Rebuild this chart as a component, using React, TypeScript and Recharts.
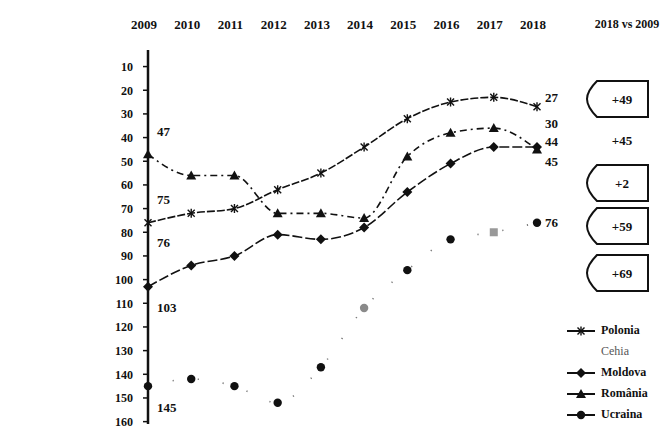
import { LineChart, Line, XAxis, YAxis, Legend, LabelList } from "recharts";

// ─── Data ────────────────────────────────────────────────────────────────────

const YEARS = ["2009", "2010", "2011", "2012", "2013", "2014", "2015", "2016", "2017", "2018"];
const POLONIA = [76, 72, 70, 62, 55, 44, 32, 25, 23, 27];
const CEHIA = [75, null, null, null, null, null, null, null, null, 30];
const MOLDOVA = [103, 94, 90, 81, 83, 78, 63, 51, 44, 44];
const ROMANIA = [47, 56, 56, 72, 72, 74, 48, 38, 36, 45];
const UCRAINA = [145, 142, 145, 152, 137, 112, 96, 83, 80, 76];
const Y_TICKS = [10, 20, 30, 40, 50, 60, 70, 80, 90, 100, 110, 120, 130, 140, 150, 160];
const DIFF_TITLE = "2018 vs 2009";
const DIFFS = ["+49", "+45", "+2", "+59", "+69"];
const DIFF_BOXED = [true, false, true, true, true];

const data = YEARS.map((year, i) => ({
  year,
  Polonia: POLONIA[i],
  Cehia: CEHIA[i],
  Moldova: MOLDOVA[i],
  Romania: ROMANIA[i],
  Ucraina: UCRAINA[i],
}));

// ─── Styles ──────────────────────────────────────────────────────────────────

const FONT = "'Liberation Serif', 'DejaVu Serif', serif";
const INK = "#111";
const DIFF_Y = [99, 140, 183, 226, 273];

// ─── Markers ─────────────────────────────────────────────────────────────────

type Kind = "star" | "diamond" | "triangle" | "circle" | "none";

function Marker({ kind, cx, cy, fill = INK }: { kind: Kind; cx: number; cy: number; fill?: string }) {
  if (kind === "star")
    return (
      <g stroke={INK} strokeWidth={1.4}>
        <line x1={cx - 3.5} y1={cy - 3.5} x2={cx + 3.5} y2={cy + 3.5} />
        <line x1={cx - 3.5} y1={cy + 3.5} x2={cx + 3.5} y2={cy - 3.5} />
        <line x1={cx} y1={cy - 4.5} x2={cx} y2={cy + 4.5} />
      </g>
    );
  if (kind === "diamond")
    return <path d={`M${cx},${cy - 5}L${cx + 5},${cy}L${cx},${cy + 5}L${cx - 5},${cy}Z`} fill={fill} />;
  if (kind === "triangle")
    return <path d={`M${cx},${cy - 5}L${cx + 5},${cy + 4}L${cx - 5},${cy + 4}Z`} fill={fill} />;
  if (kind === "circle") return <circle cx={cx} cy={cy} r={4.2} fill={fill} />;
  return null;
}

const makeDot = (kind: Kind, grey: number[] = []) => (p: any) => {
  if (p.cx == null || p.cy == null || p.value == null) return <g key={`d-${p.index}`} />;
  const g = grey.includes(p.index);
  return (
    <g key={`d-${kind}-${p.index}`}>
      {kind === "circle" && p.index === 8 ? (
        <rect x={p.cx - 4} y={p.cy - 4} width={8} height={8} fill="#999" />
      ) : (
        <Marker kind={kind} cx={p.cx} cy={p.cy} fill={g ? "#8a8a8a" : INK} />
      )}
    </g>
  );
};

// end labels: offsets at first and last year
const makeLabel = (dyStart: number, dyEnd: number) => (p: any) => {
  const last = YEARS.length - 1;
  if (p.value == null || (p.index !== 0 && p.index !== last)) return null;
  const start = p.index === 0;
  return (
    <text
      x={p.x + (start ? 9 : 8)}
      y={p.y + (start ? dyStart : dyEnd)}
      dy="0.35em"
      fontFamily={FONT}
      fontWeight={700}
      fontSize={13}
      fill={INK}
    >
      {p.value}
    </text>
  );
};

const SERIES = [
  { key: "Polonia", label: "Polonia", kind: "star" as Kind, dash: "8 2", stroke: INK, dy: [20, -9] },
  { key: "Cehia", label: "Cehia", kind: "none" as Kind, dash: "0", stroke: "transparent", dy: [-21, 10] },
  { key: "Moldova", label: "Moldova", kind: "diamond" as Kind, dash: "10 3", stroke: INK, dy: [21, -6] },
  { key: "Romania", label: "România", kind: "triangle" as Kind, dash: "7 4 2 4", stroke: INK, dy: [-23, 12] },
  { key: "Ucraina", label: "Ucraina", kind: "circle" as Kind, dash: "1.2 24", stroke: "#777", dy: [21, 0] },
];

function LegendBox() {
  return (
    <div style={{ fontFamily: FONT, fontWeight: 700, fontSize: 12, color: INK }}>
      {SERIES.map((s) => (
        <div key={s.key} style={{ display: "flex", alignItems: "center", height: 21 }}>
          <svg width={32} height={12} style={{ marginRight: 4 }}>
            {s.kind !== "none" && (
              <>
                <line x1={2} y1={6} x2={30} y2={6} stroke={INK} strokeWidth={2} />
                <Marker kind={s.kind} cx={16} cy={6} />
              </>
            )}
          </svg>
          <span style={{ color: s.kind === "none" ? "#555" : INK, fontWeight: s.kind === "none" ? 400 : 700 }}>
            {s.label}
          </span>
        </div>
      ))}
    </div>
  );
}

function DiffColumn() {
  const x0 = 587;
  const x1 = 648;
  return (
    <svg width={665} height={437} style={{ position: "absolute", left: 0, top: 0, pointerEvents: "none" }}>
      <text x={627} y={24} dy="0.35em" textAnchor="middle" fontFamily={FONT} fontWeight={700} fontSize={12} fill={INK}>
        {DIFF_TITLE}
      </text>
      {DIFFS.map((d, i) => {
        const yc = DIFF_Y[i];
        const y0 = yc - 18;
        const y1 = yc + 18;
        return (
          <g key={d}>
            {DIFF_BOXED[i] && (
              <path
                d={`M${x0 + 10},${y0}L${x1},${y0}L${x1},${y1}L${x0 + 10},${y1}Q${x0},${yc + 8} ${x0},${yc}Q${x0},${yc - 8} ${x0 + 10},${y0}Z`}
                fill="#fff"
                stroke={INK}
                strokeWidth={2}
              />
            )}
            <text x={622} y={yc} dy="0.35em" textAnchor="middle" fontFamily={FONT} fontWeight={700} fontSize={13} fill={INK}>
              {d}
            </text>
          </g>
        );
      })}
    </svg>
  );
}

export default function App() {
  return (
    <div style={{ position: "absolute", left: 0, top: 0, width: 665, height: 437, background: "#fff" }}>
      <LineChart width={665} height={437} data={data} margin={{ top: 14, right: 128, bottom: 13, left: 0 }}>
        <XAxis
          dataKey="year"
          orientation="top"
          height={36}
          axisLine={false}
          tickLine={false}
          interval={0}
          tick={(p: any) => (
            <text
              x={p.x - 4}
              y={24}
              dy="0.35em"
              textAnchor="middle"
              fontFamily={FONT}
              fontWeight={700}
              fontSize={13}
              fill={INK}
            >
              {p.payload.value}
            </text>
          )}
        />
        <YAxis
          reversed
          domain={[3, 161]}
          allowDataOverflow
          ticks={Y_TICKS}
          interval={0}
          width={48}
          axisLine={{ stroke: INK, strokeWidth: 2.5 }}
          tickLine={{ stroke: INK, strokeWidth: 1.5 }}
          tickSize={5}
          tickMargin={10}
          tick={{ fontFamily: FONT, fontWeight: 700, fontSize: 12, fill: INK }}
        />
        <Legend
          layout="vertical"
          verticalAlign="top"
          align="left"
          wrapperStyle={{ position: "absolute", left: 565, top: 320, width: 100 }}
          content={() => <LegendBox />}
        />
        {SERIES.map((s) => (
          <Line
            key={s.key}
            dataKey={s.key}
            name={s.label}
            type="monotone"
            stroke={s.stroke}
            strokeWidth={1.6}
            strokeDasharray={s.dash}
            dot={makeDot(s.kind, s.kind === "circle" ? [5] : [])}
            activeDot={false}
            isAnimationActive={false}
            connectNulls={false}
          >
            <LabelList dataKey={s.key} content={makeLabel(s.dy[0], s.dy[1])} />
          </Line>
        ))}
      </LineChart>
      <DiffColumn />
    </div>
  );
}
